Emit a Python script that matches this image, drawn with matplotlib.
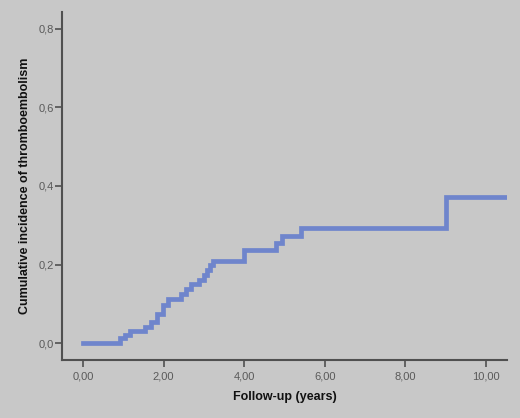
import matplotlib
matplotlib.use('Agg')
from matplotlib import pyplot as plt

# Cumulative incidence step data
follow_up = [0.0, 0.92, 1.05, 1.17, 1.55, 1.70, 1.83, 1.98, 2.10, 2.42, 2.55,
             2.68, 2.88, 3.00, 3.08, 3.15, 3.22, 4.00, 4.80, 4.95, 5.40, 9.00, 10.55]
incidence = [0.0, 0.012, 0.020, 0.030, 0.040, 0.053, 0.075, 0.098, 0.112, 0.124, 0.137,
             0.150, 0.160, 0.173, 0.186, 0.198, 0.209, 0.238, 0.256, 0.273, 0.293, 0.372, 0.372]

x_ticks = [0, 2, 4, 6, 8, 10]
x_tick_labels = ['0,00', '2,00', '4,00', '6,00', '8,00', '10,00']
y_ticks = [0.0, 0.2, 0.4, 0.6, 0.8]
y_tick_labels = ['0,0', '0,2', '0,4', '0,6', '0,8']

bg = '#c8c8c8'
plt.rcParams['font.family'] = ['Liberation Sans', 'DejaVu Sans']

fig = plt.figure(figsize=(5.2, 4.18), dpi=100, facecolor=bg)
ax = fig.add_axes([62/520, 58/418, 445/520, 348/418], facecolor=bg)

ax.step(follow_up, incidence, where='post', color='#6f85cc', linewidth=3.4,
        solid_joinstyle='miter')

ax.set_xlim(-0.52, 10.52)
ax.set_ylim(-0.043, 0.843)

ax.set_xticks(x_ticks)
ax.set_xticklabels(x_tick_labels)
ax.set_yticks(y_ticks)
ax.set_yticklabels(y_tick_labels)
ax.tick_params(direction='out', length=5, width=1.2, color='#505050',
               labelsize=8, labelcolor='#5a5a5a')
ax.tick_params(axis='y', pad=1)
ax.tick_params(axis='x', pad=3)

for side in ['top', 'right']:
    ax.spines[side].set_visible(False)
for side in ['left', 'bottom']:
    ax.spines[side].set_color('#505050')
    ax.spines[side].set_linewidth(1.5)

ax.set_xlabel('Follow-up (years)', fontsize=9, fontweight='bold',
              color='#111111', labelpad=7)
ax.set_ylabel('Cumulative incidence of thromboembolism', fontsize=9,
              fontweight='bold', color='#111111', labelpad=5)

fig.savefig('out.png', dpi=100, facecolor=bg)
